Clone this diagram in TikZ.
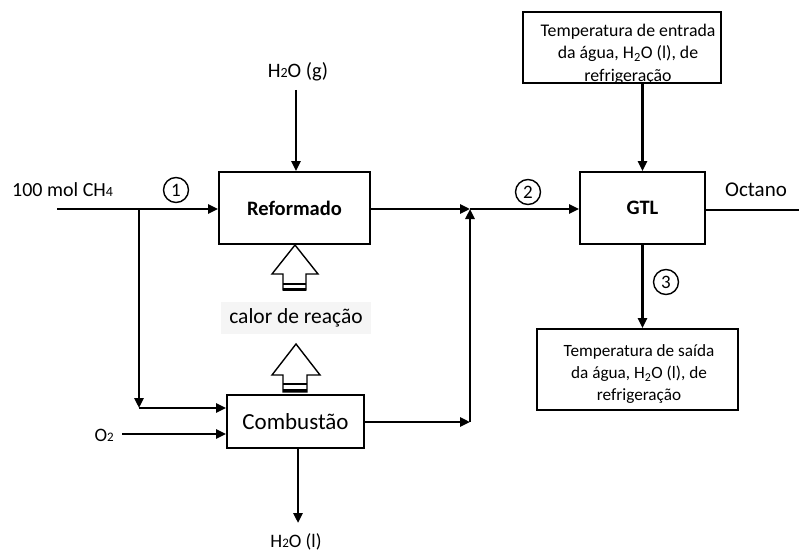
\documentclass[tikz,border=0pt]{standalone}
\usepackage{fontspec}
\setmainfont{Carlito}
\usetikzlibrary{arrows.meta}
\newcommand{\mysub}[1]{\textsubscript{#1}}
\newcommand{\fs}[1]{\fontsize{#1}{#1}\selectfont}
\newcommand{\fsl}[2]{\fontsize{#1}{#2}\selectfont}
\begin{document}
\begin{tikzpicture}[x=1pt,y=-1pt,
  line/.style={line width=2.7pt},
  flow/.style={line width=2.7pt,-{Triangle[length=10pt,width=9pt]}},
  box/.style={draw,line width=1.8pt,inner sep=0pt},
  lbl/.style={inner sep=0pt,font=\fs{18}},
  num/.style={draw,circle,line width=1.4pt,minimum size=25pt,inner sep=0pt,font=\fs{19}},
  blk/.style={draw,line width=1.4pt,fill=white,line join=miter}]
\useasboundingbox (0,0) rectangle (799,553);

% process boxes
\node[box,minimum width=151pt,minimum height=72pt,font=\fs{20.5}\bfseries] (ref) at (294.5,208) {Reformado};
\node[box,minimum width=125pt,minimum height=72pt,font=\fs{20.5}\bfseries] (gtl) at (642.5,208) {GTL};
\node[box,minimum width=137pt,minimum height=53pt,font=\fs{23}] (comb) at (295.5,421.5) {Combustão};
\node[box,minimum width=198pt,minimum height=71pt] (top) at (622,47.5) {};
\node[box,minimum width=201pt,minimum height=81pt] (bot) at (637.5,369.5) {};
\node[lbl,align=center,font=\fsl{17.8}{22.5}] (toptxt) at (628,54) {Temperatura de entrada\\da água, H\mysub{2}O (l), de\\refrigeração};
\node[lbl,align=center,font=\fsl{17.2}{22}] (bottxt) at (639,374) {Temperatura de saída\\da água, H\mysub{2}O (l), de\\refrigeração};

% labels
\node[lbl,anchor=west,font=\fs{20}] (ch4txt) at (12,190) {100 mol CH{\fs{14}4}};
\node[lbl,font=\fs{20.5}] (h2ogtxt) at (298,72) {H{\fs{14}2}O (g)};
\node[lbl,anchor=east,font=\fs{19}] (o2txt) at (114,435) {O{\fs{13}2}};
\node[lbl,font=\fs{19}] (h2oltxt) at (296,542) {H{\fs{13}2}O (l)};
\node[lbl,font=\fs{21}] (octtxt) at (756,190) {Octano};
\node[lbl,fill=black!4,minimum width=150pt,minimum height=32pt,font=\fs{21.5}] (calor) at (296,318) {calor de reação};

% stream numbers
\node[num] (n1) at (176,190) {1};
\node[num] (n2) at (528,192) {2};
\node[num] (n3) at (666,282) {3};

% coordinates
\coordinate (ch4) at (57,209);
\coordinate (br) at (139,209);
\coordinate (br2) at (139,408);
\coordinate (o2) at (122,434);
\coordinate (h2ol) at (298,523);
\coordinate (j1) at (470,422);
\coordinate (j2) at (470,209);
\coordinate (h2og) at (296,90);
\coordinate (oct) at (799,210);

% connectors
\draw[flow] (ch4) -- (ch4 -| ref.west);
\draw[flow] (br) -- (br2);
\draw[flow] (br2) -- (br2 -| comb.west);
\draw[flow] (o2) -- (o2 -| comb.west);
\draw[flow] (h2ol |- comb.south) -- (h2ol);
\draw[flow] (j1 -| comb.east) -- (j1);
\draw[flow] (j1) -- (j2);
\draw[flow] (j2 -| ref.east) -- (j2);
\draw[flow] (j2) -- (j2 -| gtl.west);
\draw[flow] (h2og) -- (h2og |- ref.north);
\draw[flow] (gtl.north |- top.south) -- (gtl.north);
\draw[flow] (gtl.south) -- (gtl.south |- bot.north);
\draw[line] (oct -| gtl.east) -- (oct);

% heat block arrows
\draw[blk] (295,245) -- (318,274) -- (306,274) -- (306,290) -- (283,290) -- (283,274) -- (272,274) -- cycle;
\draw[line width=2pt] (283,284) -- (306,284);
\draw[line width=3pt] (283,289) -- (306,289);
\draw[blk] (296,344) -- (320,375) -- (307,375) -- (307,392) -- (283,392) -- (283,375) -- (272,375) -- cycle;
\draw[line width=2pt] (283,384) -- (307,384);
\draw[line width=3pt] (283,390) -- (307,390);
\end{tikzpicture}
\end{document}
